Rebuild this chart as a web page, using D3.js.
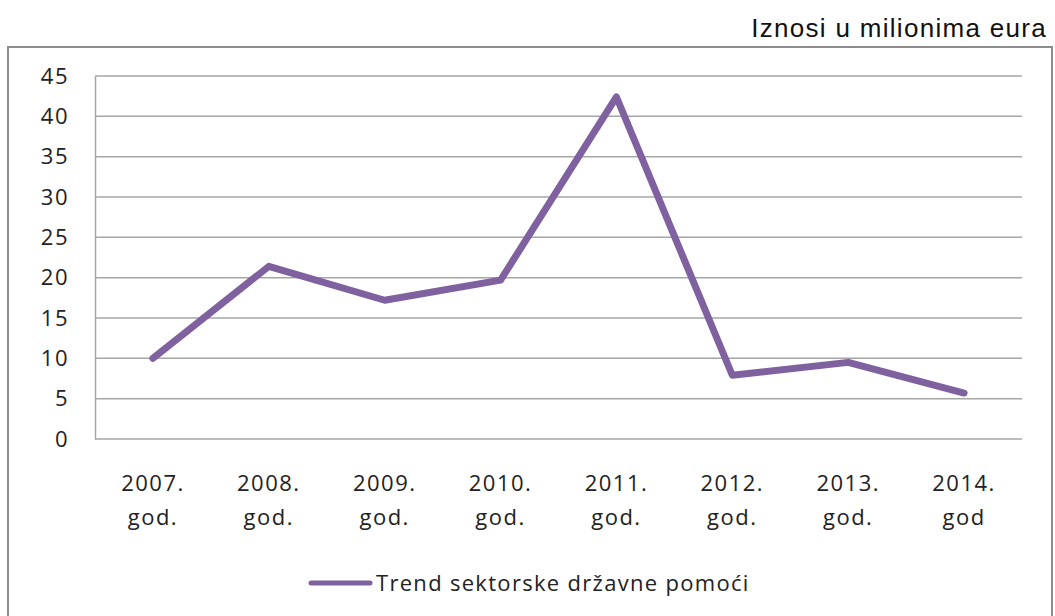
<!DOCTYPE html>
<html>
<head>
<meta charset="utf-8">
<script src="https://cdn.jsdelivr.net/npm/d3@7"></script>
<style>
  body { margin: 0; background: #fff; }
  svg { display: block; }
  .tick text { font-family: "Open Sans", sans-serif; font-size: 22px; letter-spacing: 1.5px; fill: #222; }
</style>
</head>
<body>
<div id="chart"></div>
<script>
var years = ["2007.", "2008.", "2009.", "2010.", "2011.", "2012.", "2013.", "2014."];
var suffixes = ["god.", "god.", "god.", "god.", "god.", "god.", "god.", "god"];
var values = [10.0, 21.4, 17.2, 19.7, 42.4, 7.9, 9.5, 5.7];
var yTicks = [0, 5, 10, 15, 20, 25, 30, 35, 40, 45];

var width = 1055, height = 616;
var margin = {top: 76, right: 33, bottom: 177, left: 95};

var svg = d3.select("#chart")
  .append("svg")
  .attr("width", width)
  .attr("height", height);

// outer frame
svg.append("rect")
  .attr("x", 8)
  .attr("y", 47)
  .attr("width", 1044)
  .attr("height", 600)
  .attr("fill", "none")
  .attr("stroke", "#8c8c8c")
  .attr("stroke-width", 2);

svg.append("text")
  .attr("x", 1047)
  .attr("y", 37)
  .attr("text-anchor", "end")
  .style("font-family", "'Liberation Sans', Arial, sans-serif")
  .style("font-size", "26px")
  .style("letter-spacing", "1.3px")
  .style("fill", "#111")
  .text("Iznosi u milionima eura");

var x = d3.scaleBand()
  .domain(years)
  .range([margin.left, width - margin.right]);

var y = d3.scaleLinear()
  .domain([0, 45])
  .range([height - margin.bottom, margin.top]);

// gridlines
svg.append("g")
  .selectAll("line")
  .data(yTicks)
  .enter()
  .append("line")
  .attr("x1", margin.left)
  .attr("x2", width - margin.right)
  .attr("y1", function(d) { return y(d); })
  .attr("y2", function(d) { return y(d); })
  .attr("stroke", "#a6a6a6")
  .attr("stroke-width", 1.5);

// y axis
var yAxis = svg.append("g")
  .attr("transform", "translate(" + margin.left + ",0)")
  .call(d3.axisLeft(y).tickValues(yTicks).tickSize(0).tickPadding(26));
yAxis.select(".domain").attr("stroke", "#a6a6a6").attr("stroke-width", 1.5);

// x axis labels (two lines)
var xAxis = svg.append("g")
  .attr("transform", "translate(0," + (height - margin.bottom) + ")")
  .call(d3.axisBottom(x).tickSize(0).tickFormat(""));
xAxis.select(".domain").remove();
xAxis.selectAll(".tick text").remove();
xAxis.selectAll(".tick").each(function(d, i) {
  var t = d3.select(this).append("text")
    .attr("text-anchor", "middle")
    .attr("fill", "#222");
  t.append("tspan").attr("x", 0).attr("y", 52).text(years[i]);
  t.append("tspan").attr("x", 0).attr("y", 86).text(suffixes[i]);
});

// line
var line = d3.line()
  .x(function(d, i) { return x(years[i]) + x.bandwidth() / 2; })
  .y(function(d) { return y(d); });

svg.append("path")
  .datum(values)
  .attr("d", line)
  .attr("fill", "none")
  .attr("stroke", "#7f61a0")
  .attr("stroke-width", 7)
  .attr("stroke-linejoin", "round")
  .attr("stroke-linecap", "round");

// legend
var legend = svg.append("g").attr("transform", "translate(311,583)");
legend.append("line")
  .attr("x1", 0).attr("x2", 59)
  .attr("y1", 0).attr("y2", 0)
  .attr("stroke", "#7f61a0")
  .attr("stroke-width", 5)
  .attr("stroke-linecap", "round");
legend.append("text")
  .attr("x", 65)
  .attr("y", 8)
  .style("font-family", "'Open Sans', sans-serif")
  .style("font-size", "22px")
  .style("letter-spacing", "1.3px")
  .style("fill", "#222")
  .text("Trend sektorske državne pomoći");
</script>
</body>
</html>
